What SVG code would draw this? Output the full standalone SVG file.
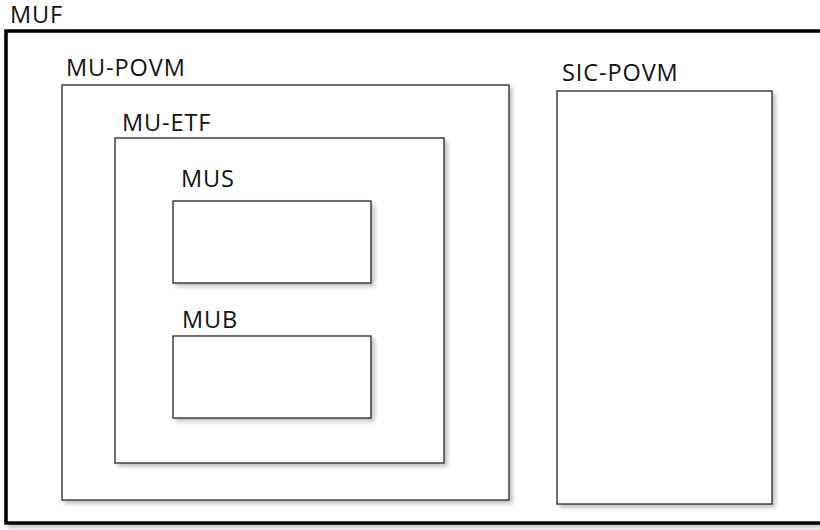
<svg xmlns="http://www.w3.org/2000/svg" width="820" height="530" viewBox="0 0 820 530">
<defs>
<filter id="sh" x="-5%" y="-5%" width="115%" height="115%">
<feGaussianBlur in="SourceAlpha" stdDeviation="2"/>
<feOffset dx="3" dy="3" result="b"/>
<feComponentTransfer><feFuncA type="linear" slope="0.25"/></feComponentTransfer>
<feMerge><feMergeNode/><feMergeNode in="SourceGraphic"/></feMerge>
</filter>
<style>
.box{fill:#fff;stroke:#262626;stroke-width:1.3;filter:url(#sh)}
.outer{fill:#fff;stroke:#000;stroke-width:3.5;filter:url(#sh)}
.lbl{font-family:"Open Sans","Liberation Sans",sans-serif;font-size:23.5px;letter-spacing:0.9px;fill:#111}
</style>
</defs>
<rect width="820" height="530" fill="#fff"/>
<g id="MUF">
<rect class="outer" x="6" y="31" width="830" height="492"/>
<text class="lbl" x="10" y="23" font-size="22.5px">MUF</text>
</g>
<g id="MU-POVM">
<rect class="box" x="62" y="85" width="447" height="415"/>
<text class="lbl" x="66" y="76">MU-POVM</text>
</g>
<g id="SIC-POVM">
<rect class="box" x="557" y="91" width="215" height="413"/>
<text class="lbl" x="562" y="81">SIC-POVM</text>
</g>
<g id="MU-ETF">
<rect class="box" x="115" y="138" width="329" height="325"/>
<text class="lbl" x="122" y="131">MU-ETF</text>
</g>
<g id="MUS">
<rect class="box" x="173" y="201" width="198" height="82"/>
<text class="lbl" x="181" y="187">MUS</text>
</g>
<g id="MUB">
<rect class="box" x="173" y="336" width="198" height="82"/>
<text class="lbl" x="182" y="328">MUB</text>
</g>
<g id="connectors"/>
</svg>
